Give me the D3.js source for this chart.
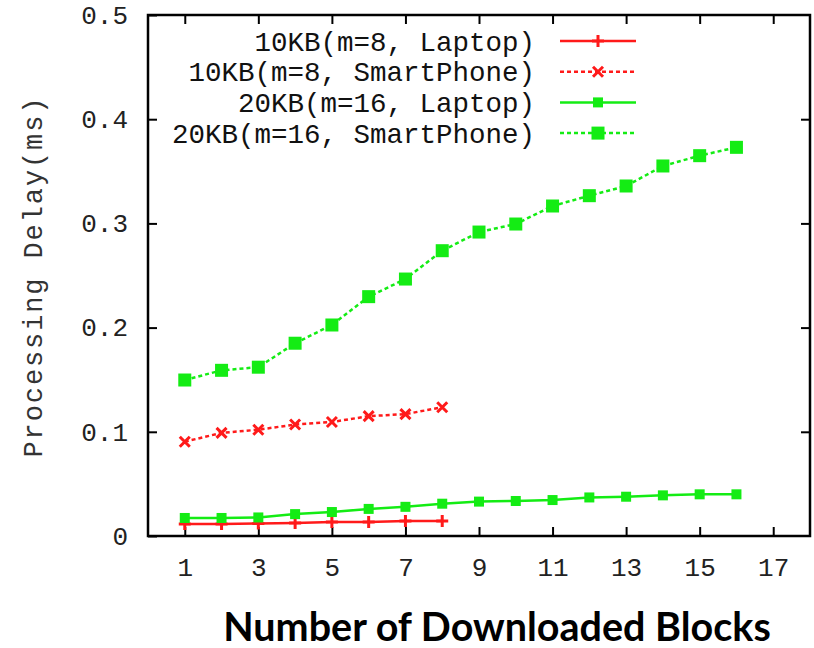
<!DOCTYPE html>
<html>
<head>
<meta charset="utf-8">
<script src="https://cdn.jsdelivr.net/npm/d3@7/dist/d3.min.js"></script>
<style>
  html, body { margin: 0; padding: 0; background: #fff; }
  svg { display: block; }
</style>
</head>
<body>
<svg id="chart" width="814" height="648"></svg>
<script>
// Number of downloaded blocks (x) and processing delay in ms (y)
const blocks8 = [1, 2, 3, 4, 5, 6, 7, 8];
const blocks16 = [1, 2, 3, 4, 5, 6, 7, 8, 9, 10, 11, 12, 13, 14, 15, 16];

const laptop10KB = [0.0115, 0.0115, 0.012, 0.0125, 0.0134, 0.0134, 0.0144, 0.0144];
const phone10KB = [0.0905, 0.099, 0.102, 0.107, 0.1094, 0.115, 0.117, 0.1235];
const laptop20KB = [0.0173, 0.0173, 0.0178, 0.021, 0.023, 0.026, 0.028, 0.031,
                    0.033, 0.0336, 0.0345, 0.037, 0.0377, 0.039, 0.040, 0.040];
const phone20KB = [0.1497, 0.159, 0.162, 0.185, 0.2025, 0.2297, 0.2466, 0.2738,
                   0.2917, 0.2994, 0.3167, 0.3266, 0.3359, 0.3551, 0.365, 0.373];

const seriesNames = ["10KB(m=8, Laptop)", "10KB(m=8, SmartPhone)",
                     "20KB(m=16, Laptop)", "20KB(m=16, SmartPhone)"];
const xTicks = [1, 3, 5, 7, 9, 11, 13, 15, 17];
const yTicks = [0, 0.1, 0.2, 0.3, 0.4, 0.5];
const yLabel = "Processing Delay(ms)";
const xLabel = "Number of Downloaded Blocks";

const RED = "#ff1a1a";
const GREEN = "#14ec14";

const series = [
  { name: seriesNames[0], xs: blocks8, ys: laptop10KB, color: RED, dash: null, marker: "plus" },
  { name: seriesNames[1], xs: blocks8, ys: phone10KB, color: RED, dash: "4,3", marker: "cross" },
  { name: seriesNames[2], xs: blocks16, ys: laptop20KB, color: GREEN, dash: null, marker: "smallSquare" },
  { name: seriesNames[3], xs: blocks16, ys: phone20KB, color: GREEN, dash: "4,3", marker: "square" }
];

const svg = d3.select("#chart");
const plot = { left: 148, right: 810, top: 15, bottom: 536 };

const x = d3.scaleLinear().domain([0, 18]).range([plot.left, plot.right]);
const y = d3.scaleLinear().domain([0, 0.5]).range([plot.bottom, plot.top]);

const monoFont = "'Liberation Mono', 'Courier New', monospace";

// Tick marks point inward on all four sides (mirrored)
const tickLen = 9;
const axisG = svg.append("g");

function styleAxis(g) {
  g.select(".domain").remove();
  g.selectAll(".tick line").attr("stroke", "#000").attr("stroke-width", 2);
}

axisG.append("g")
  .attr("transform", `translate(0,${plot.bottom})`)
  .call(d3.axisBottom(x).tickValues(xTicks).tickSize(-tickLen).tickFormat(d3.format("d")).tickPadding(22))
  .call(styleAxis)
  .call(g => g.selectAll(".tick text")
    .attr("font-family", monoFont).attr("font-size", 26).attr("fill", "#222"));

axisG.append("g")
  .attr("transform", `translate(0,${plot.top})`)
  .call(d3.axisTop(x).tickValues(xTicks.filter(v => v < 18)).tickSize(-tickLen).tickFormat(""))
  .call(styleAxis);

axisG.append("g")
  .attr("transform", `translate(${plot.left},0)`)
  .call(d3.axisLeft(y).tickValues(yTicks).tickSize(-tickLen)
    .tickFormat(d => d === 0 ? "0" : d3.format(".1f")(d)).tickPadding(20))
  .call(styleAxis)
  .call(g => g.selectAll(".tick text")
    .attr("font-family", monoFont).attr("font-size", 26).attr("fill", "#222"));

axisG.append("g")
  .attr("transform", `translate(${plot.right},0)`)
  .call(d3.axisRight(y).tickValues(yTicks.filter(v => v > 0 && v < 0.5)).tickSize(-tickLen).tickFormat(""))
  .call(styleAxis);

// Frame
svg.append("rect")
  .attr("x", plot.left).attr("y", plot.top)
  .attr("width", plot.right - plot.left).attr("height", plot.bottom - plot.top)
  .attr("fill", "none").attr("stroke", "#000").attr("stroke-width", 2.5);

// Marker drawing
function drawMarker(g, type, cx, cy, color) {
  if (type === "plus") {
    g.append("path")
      .attr("d", `M${cx - 6},${cy}H${cx + 6}M${cx},${cy - 6}V${cy + 6}`)
      .attr("stroke", color).attr("stroke-width", 3).attr("fill", "none");
  } else if (type === "cross") {
    g.append("path")
      .attr("d", `M${cx - 5},${cy - 5}L${cx + 5},${cy + 5}M${cx - 5},${cy + 5}L${cx + 5},${cy - 5}`)
      .attr("stroke", color).attr("stroke-width", 3).attr("fill", "none");
  } else if (type === "smallSquare") {
    g.append("rect")
      .attr("x", cx - 5).attr("y", cy - 5).attr("width", 10).attr("height", 10)
      .attr("fill", color);
  } else if (type === "square") {
    g.append("rect")
      .attr("x", cx - 6.5).attr("y", cy - 6.5).attr("width", 13).attr("height", 13)
      .attr("fill", color);
  }
}

const line = d3.line().x(d => x(d[0])).y(d => y(d[1]));

const dataG = svg.append("g");
series.forEach(s => {
  const pts = s.xs.map((v, i) => [v, s.ys[i]]);
  dataG.append("path")
    .datum(pts)
    .attr("d", line)
    .attr("fill", "none")
    .attr("stroke", s.color)
    .attr("stroke-width", 2.5)
    .attr("stroke-dasharray", s.dash);
  const mg = dataG.append("g");
  pts.forEach(p => drawMarker(mg, s.marker, x(p[0]), y(p[1]), s.color));
});

// Legend
const legend = svg.append("g");
const legendTextRight = 535;
const sampleX0 = 560, sampleX1 = 636;
series.forEach((s, i) => {
  const ly = 41 + i * 30.7;
  legend.append("text")
    .attr("x", legendTextRight).attr("y", ly)
    .attr("dy", "0.35em")
    .attr("text-anchor", "end")
    .attr("font-family", monoFont).attr("font-size", 27.5).attr("fill", "#111")
    .text(s.name);
  legend.append("line")
    .attr("x1", sampleX0).attr("x2", sampleX1).attr("y1", ly).attr("y2", ly)
    .attr("stroke", s.color).attr("stroke-width", 2.5)
    .attr("stroke-dasharray", s.dash);
  drawMarker(legend, s.marker, (sampleX0 + sampleX1) / 2, ly, s.color);
});

// Axis titles
svg.append("text")
  .attr("transform", `translate(42,${(plot.top + plot.bottom) / 2 + 2}) rotate(-90)`)
  .attr("text-anchor", "middle")
  .attr("font-family", monoFont).attr("font-size", 27).attr("fill", "#333")
  .attr("textLength", 360).attr("lengthAdjust", "spacing")
  .text(yLabel);

svg.append("text")
  .attr("x", 497).attr("y", 641)
  .attr("text-anchor", "middle")
  .attr("font-family", "Lato, 'Open Sans', sans-serif")
  .attr("font-weight", "bold")
  .attr("font-size", 39.5).attr("fill", "#000")
  .text(xLabel);
</script>
</body>
</html>
